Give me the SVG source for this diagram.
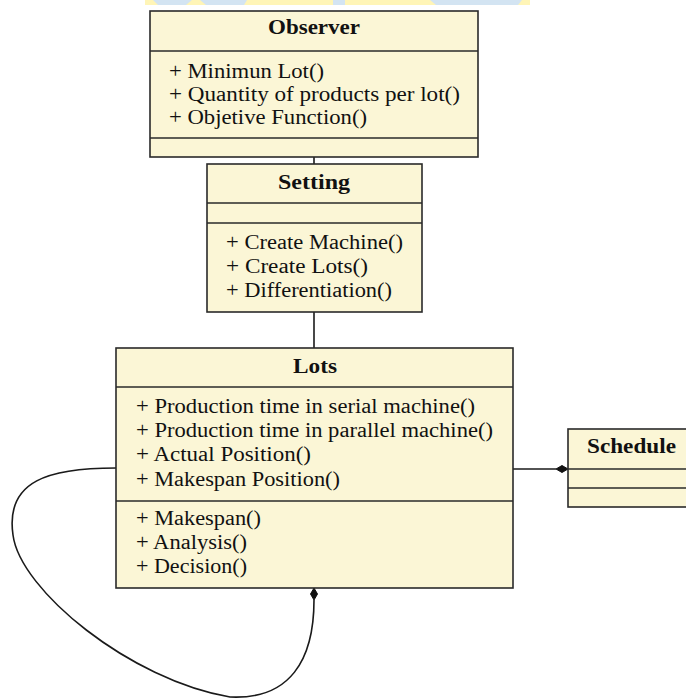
<svg xmlns="http://www.w3.org/2000/svg" width="686" height="698" viewBox="0 0 686 698">
  <style>
    .box { fill: #fbf6d6; stroke: #2a2a2a; stroke-width: 1.6; }
    .div { stroke: #2a2a2a; stroke-width: 1.6; }
    .title { font-family: "Liberation Serif", "DejaVu Serif", serif; font-size: 20px; font-weight: bold; fill: #111; text-anchor: middle; }
    .op { font-family: "Liberation Serif", "DejaVu Serif", serif; font-size: 20px; fill: #111; }
    .link { fill: none; stroke: #1a1a1a; stroke-width: 1.6; }
    .diamond { fill: #111; stroke: #111; stroke-width: 1; }
  </style>

  <!-- faint banner strip at the top edge -->
  <g id="banner" opacity="0.8">
    <rect x="145" y="0" width="385" height="5" fill="#fff3a6"/>
    <polygon points="153,0 192,0 186,5 158,5" fill="#c9def0"/>
    <polygon points="200,0 247,0 244,5 206,5" fill="#c9def0"/>
    <rect x="333" y="0" width="12" height="5" fill="#c9def0"/>
    <polygon points="430,0 522,0 518,5 436,5" fill="#c9def0"/>
  </g>

  <!-- connectors -->
  <g id="connectors">
    <line class="link" x1="314" y1="157" x2="314" y2="164"/>
    <line class="link" x1="314" y1="312" x2="314" y2="348"/>
    <line class="link" x1="513" y1="469" x2="556" y2="469"/>
    <polygon class="diamond" points="568,469 562,465.5 556,469 562,472.5"/>
    <path class="link" d="M116,468 C50,468 5,480 13,535 C20,590 130,680 230,697 C290,700 314,660 314,600"/>
    <polygon class="diamond" points="314,588 317.5,594 314,600 310.5,594"/>
  </g>

  <!-- Observer -->
  <g id="observer">
    <rect class="box" x="150" y="11" width="328" height="146"/>
    <line class="div" x1="150" y1="51" x2="478" y2="51"/>
    <line class="div" x1="150" y1="138" x2="478" y2="138"/>
    <text class="title" x="314" y="34" textLength="92" lengthAdjust="spacingAndGlyphs">Observer</text>
    <text class="op" x="169" y="78" textLength="155" lengthAdjust="spacingAndGlyphs">+ Minimun Lot()</text>
    <text class="op" x="169" y="101" textLength="291" lengthAdjust="spacingAndGlyphs">+ Quantity of products per lot()</text>
    <text class="op" x="169" y="124" textLength="198" lengthAdjust="spacingAndGlyphs">+ Objetive Function()</text>
  </g>

  <!-- Setting -->
  <g id="setting">
    <rect class="box" x="207" y="164" width="215" height="148"/>
    <line class="div" x1="207" y1="203" x2="422" y2="203"/>
    <line class="div" x1="207" y1="223" x2="422" y2="223"/>
    <text class="title" x="314" y="189" textLength="72" lengthAdjust="spacingAndGlyphs">Setting</text>
    <text class="op" x="226" y="249" textLength="177" lengthAdjust="spacingAndGlyphs">+ Create Machine()</text>
    <text class="op" x="226" y="273" textLength="142" lengthAdjust="spacingAndGlyphs">+ Create Lots()</text>
    <text class="op" x="226" y="297" textLength="166" lengthAdjust="spacingAndGlyphs">+ Differentiation()</text>
  </g>

  <!-- Lots -->
  <g id="lots">
    <rect class="box" x="116" y="348" width="397" height="240"/>
    <line class="div" x1="116" y1="387" x2="513" y2="387"/>
    <line class="div" x1="116" y1="501" x2="513" y2="501"/>
    <text class="title" x="315" y="373" textLength="44" lengthAdjust="spacingAndGlyphs">Lots</text>
    <text class="op" x="136" y="413" textLength="339" lengthAdjust="spacingAndGlyphs">+ Production time in serial machine()</text>
    <text class="op" x="136" y="437" textLength="357" lengthAdjust="spacingAndGlyphs">+ Production time in parallel machine()</text>
    <text class="op" x="136" y="461" textLength="175" lengthAdjust="spacingAndGlyphs">+ Actual Position()</text>
    <text class="op" x="136" y="486" textLength="204" lengthAdjust="spacingAndGlyphs">+ Makespan Position()</text>
    <text class="op" x="136" y="525" textLength="125" lengthAdjust="spacingAndGlyphs">+ Makespan()</text>
    <text class="op" x="136" y="549" textLength="111" lengthAdjust="spacingAndGlyphs">+ Analysis()</text>
    <text class="op" x="136" y="573" textLength="111" lengthAdjust="spacingAndGlyphs">+ Decision()</text>
  </g>

  <!-- Schedule -->
  <g id="schedule">
    <rect class="box" x="568" y="429" width="130" height="78"/>
    <line class="div" x1="568" y1="469" x2="686" y2="469"/>
    <line class="div" x1="568" y1="488" x2="686" y2="488"/>
    <text class="title" x="587" y="453" textLength="89" lengthAdjust="spacingAndGlyphs" style="text-anchor:start">Schedule</text>
  </g>
</svg>
